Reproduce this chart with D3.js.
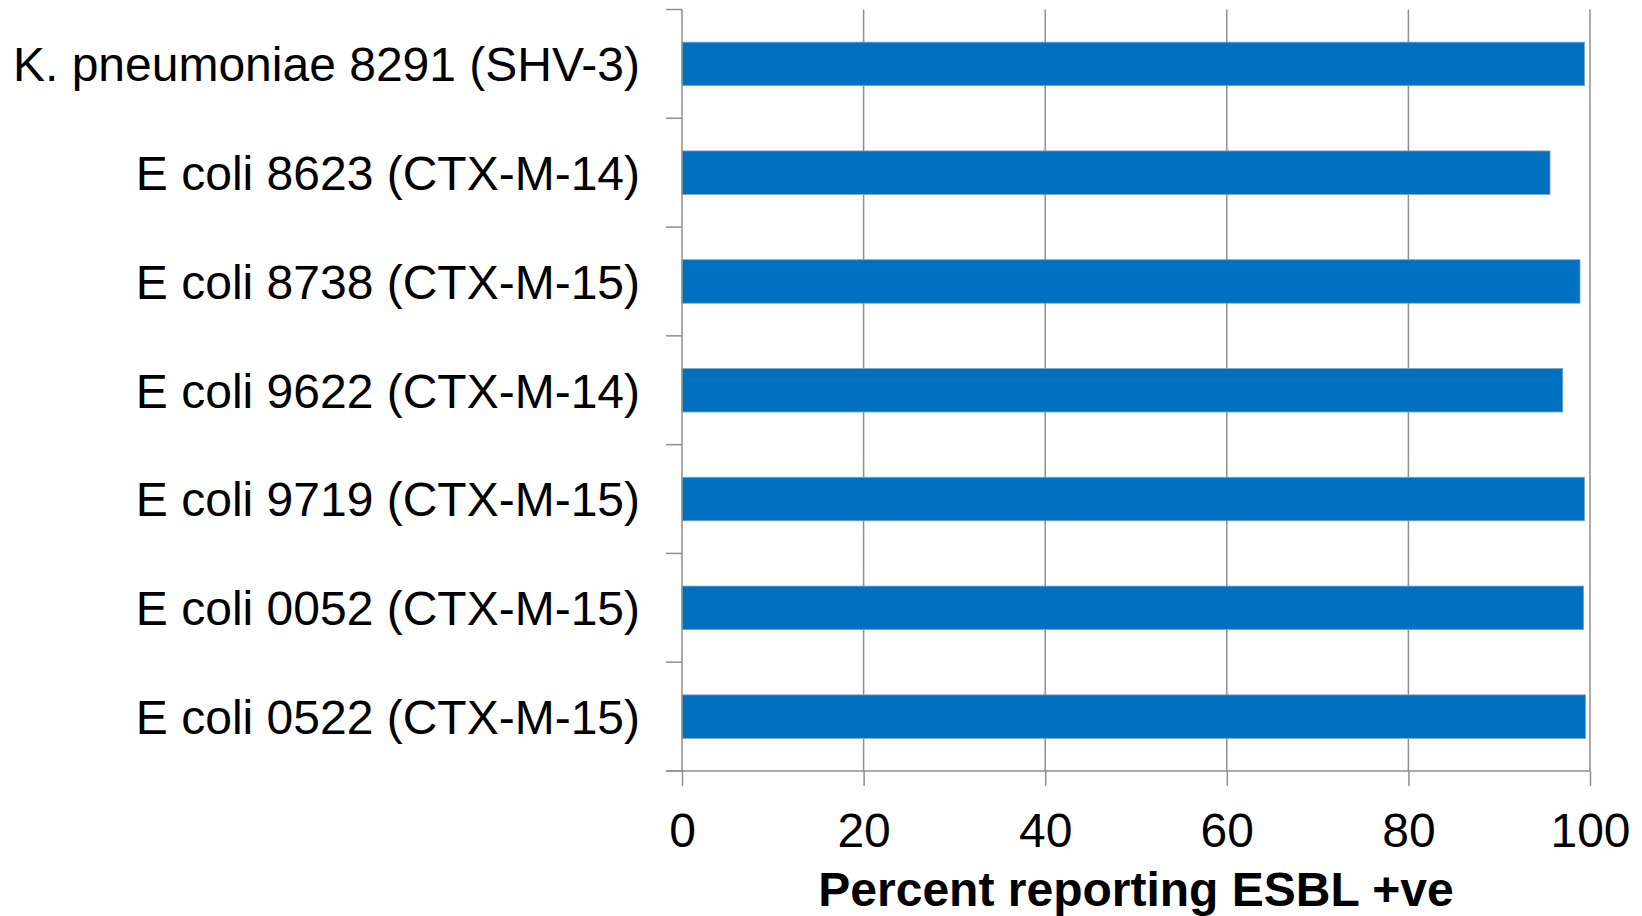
<!DOCTYPE html>
<html>
<head>
<meta charset="utf-8">
<script src="https://cdn.jsdelivr.net/npm/d3@7"></script>
<style>
  html, body { margin: 0; padding: 0; background: #ffffff; }
  svg { display: block; }
  text { font-family: "Liberation Sans", Arial, sans-serif; fill: #000; }
</style>
</head>
<body>
<svg id="chart" width="1642" height="916"></svg>
<script>
// Isolates tested and percentage of labs reporting them as ESBL positive
const isolates = [
  "K. pneumoniae 8291 (SHV-3)",
  "E coli 8623 (CTX-M-14)",
  "E coli 8738 (CTX-M-15)",
  "E coli 9622 (CTX-M-14)",
  "E coli 9719 (CTX-M-15)",
  "E coli 0052 (CTX-M-15)",
  "E coli 0522 (CTX-M-15)"
];
const percentPositive = [99.4, 95.6, 98.9, 97.0, 99.4, 99.3, 99.5];
const xTicks = [0, 20, 40, 60, 80, 100];
const xTitle = "Percent reporting ESBL +ve";

const svg = d3.select("#chart");
const margin = { top: 9.5, right: 52, bottom: 145, left: 682 };
const W = 1642, H = 916;
const plotW = W - margin.left - margin.right;
const plotH = H - margin.top - margin.bottom;
const fontSize = 48;

const g = svg.append("g").attr("transform", `translate(${margin.left},${margin.top})`);

const x = d3.scaleLinear().domain([0, 100]).range([0, plotW]);
const y = d3.scaleBand().domain(isolates).range([0, plotH]).paddingInner(0.6).paddingOuter(0.3);
const yEdges = d3.scaleLinear().domain([0, isolates.length]).range([0, plotH]);

const gridColor = "#8e8e8e";

// vertical gridlines
g.append("g")
  .selectAll("line")
  .data(xTicks.filter(t => t > 0))
  .join("line")
  .attr("x1", d => x(d)).attr("x2", d => x(d))
  .attr("y1", 0).attr("y2", plotH)
  .attr("stroke", gridColor).attr("stroke-width", 1.5);

// bars
g.append("g")
  .selectAll("rect")
  .data(isolates.map((name, i) => ({ name, value: percentPositive[i] })))
  .join("rect")
  .attr("x", x(0))
  .attr("y", d => y(d.name))
  .attr("width", d => x(d.value) - x(0))
  .attr("height", y.bandwidth())
  .attr("fill", "#0070c0")
  .attr("stroke", "#7fa6c6")
  .attr("stroke-width", 0.8);

// category axis with ticks between bands
const yAxisG = g.append("g");
yAxisG.append("line")
  .attr("x1", 0).attr("x2", 0).attr("y1", 0).attr("y2", plotH)
  .attr("stroke", gridColor).attr("stroke-width", 1.5);
yAxisG.selectAll("line.tick")
  .data(d3.range(isolates.length + 1))
  .join("line").attr("class", "tick")
  .attr("x1", -16).attr("x2", 0)
  .attr("y1", d => yEdges(d)).attr("y2", d => yEdges(d))
  .attr("stroke", gridColor).attr("stroke-width", 1.5);
yAxisG.selectAll("text")
  .data(isolates)
  .join("text")
  .attr("x", -42)
  .attr("y", d => y(d) + y.bandwidth() / 2)
  .attr("dy", "0.36em")
  .attr("text-anchor", "end")
  .attr("font-size", fontSize)
  .text(d => d);

// value axis
const xAxis = d3.axisBottom(x).tickValues(xTicks).tickSize(15).tickPadding(27).tickFormat(d3.format("d"));
const xAxisG = g.append("g").attr("transform", `translate(0,${plotH})`).call(xAxis);
xAxisG.select(".domain").remove();
xAxisG.append("line")
  .attr("x1", -16).attr("x2", plotW).attr("y1", 0).attr("y2", 0)
  .attr("stroke", gridColor).attr("stroke-width", 1.5);
xAxisG.selectAll(".tick line").attr("stroke", gridColor).attr("stroke-width", 1.5);
xAxisG.selectAll(".tick text")
  .attr("font-size", fontSize)
  .attr("font-family", "Liberation Sans, Arial, sans-serif")
  .attr("fill", "#000");

// axis title
svg.append("text")
  .attr("x", margin.left + x(50))
  .attr("y", 906)
  .attr("text-anchor", "middle")
  .attr("font-size", fontSize)
  .attr("font-weight", "bold")
  .text(xTitle);
</script>
</body>
</html>
